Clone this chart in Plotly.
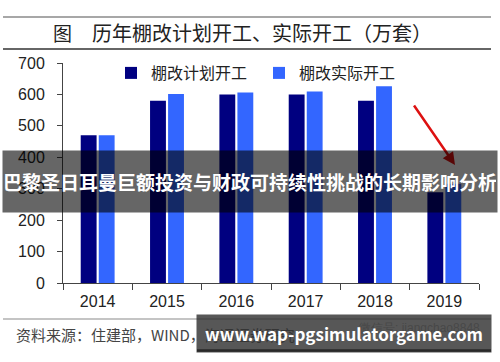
import plotly.graph_objects as go

years = ["2014", "2015", "2016", "2017", "2018", "2019"]
plan_starts = [470, 580, 600, 600, 580, 289]
actual_starts = [470, 601, 606, 609, 626, 316]
series_names = ["棚改计划开工", "棚改实际开工"]
y_ticks = [0, 100, 200, 300, 400, 500, 600, 700]

title_text = "历年棚改计划开工、实际开工（万套）"
source_text = "资料来源：住建部，WIND，海通证券研究"
wechat_text = "微信号: jiangchao8848"
banner_text = "巴黎圣日耳曼巨额投资与财政可持续性挑战的长期影响分析"
watermark_text = "www.wap-pgsimulatorgame.com"

# plot area in pixels
PL, PR, PT, PB = 63, 479, 63, 283
W, H = 500, 362


def px(x):
    return (x - PL) / (PR - PL)


def py(y):
    return (PB - y) / (PB - PT)


CJK = "Noto Sans CJK SC"
LAT = "Liberation Sans, Arial, sans-serif"

fig = go.Figure()
fig.add_trace(go.Bar(x=years, y=plan_starts, name=series_names[0],
                     marker=dict(color="#000080", line=dict(width=0))))
fig.add_trace(go.Bar(x=years, y=actual_starts, name=series_names[1],
                     marker=dict(color="#3366ff", line=dict(width=0))))

shapes = [
    dict(type="line", xref="paper", yref="paper", x0=px(3), x1=px(491), y0=py(17), y1=py(17),
         line=dict(color="#8a8a8a", width=1.5)),
    dict(type="line", xref="paper", yref="paper", x0=px(3), x1=px(491), y0=py(49), y1=py(49),
         line=dict(color="#333333", width=1.5)),
    dict(type="line", xref="paper", yref="paper", x0=px(3), x1=px(491), y0=py(319), y1=py(319),
         line=dict(color="#8a8a8a", width=1.2)),
    dict(type="line", xref="paper", yref="paper", x0=px(197), x1=px(491), y0=py(350.5), y1=py(350.5),
         line=dict(color="#000000", width=2.5)),
]


def ann(text, x, y, **kw):
    d = dict(text=text, x=px(x), y=py(y), xref="paper", yref="paper", showarrow=False,
             xanchor="center", yanchor="middle")
    d.update(kw)
    return d


annotations = [
    ann("图", 62, 33, font=dict(family=CJK, size=19, color="#222")),
    ann(title_text, 262, 33, font=dict(family=CJK, size=20, color="#222")),
    ann(source_text, 14, 334, xanchor="left", font=dict(family=CJK, size=15, color="#444")),
    ann(wechat_text, 482, 328, xanchor="right", font=dict(family=LAT, size=12, color="#aaa")),
    # red arrow
    dict(text="", x=px(455), y=py(165), xref="paper", yref="paper", showarrow=True,
         ax=-42, ay=-61, arrowcolor="#dd1111", arrowwidth=2.5, arrowhead=2, arrowsize=1),
    # overlay banner
    ann("<b>" + banner_text + "</b>", 250, 181.5, width=492, height=59, borderpad=1,
        bgcolor="rgba(0,0,0,0.6)", font=dict(family=CJK, size=19, color="white")),
    # bottom watermark
    ann("<b>" + watermark_text + "</b>", 344, 333.5, width=292, height=35, borderpad=1,
        bgcolor="rgba(50,50,50,0.82)", font=dict(family=CJK, size=17, color="white")),
]

fig.update_layout(
    width=W, height=H,
    margin=dict(l=PL, r=W - PR, t=PT, b=H - PB, pad=0),
    paper_bgcolor="white", plot_bgcolor="white",
    barmode="group", bargap=0.48, bargroupgap=0.12,
    showlegend=True,
    legend=dict(orientation="h", x=px(111), y=py(56), xanchor="left", yanchor="top",
                font=dict(family=CJK, size=16, color="#222"), bgcolor="rgba(0,0,0,0)",
                entrywidth=103, entrywidthmode="pixels", itemwidth=30),
    xaxis=dict(type="category", showline=True, linecolor="#444", linewidth=1,
               ticks="outside", tickson="boundaries", ticklen=6, tickcolor="#444",
               ticklabelstandoff=4,
               tickfont=dict(family=LAT, size=16, color="#222"), showgrid=False),
    yaxis=dict(range=[0, 700], tickvals=y_ticks, showline=True, linecolor="#444", linewidth=1,
               ticks="outside", ticklen=5, tickcolor="#444", showgrid=False, zeroline=False,
               ticklabelstandoff=9,
               tickfont=dict(family=LAT, size=16, color="#222")),
    shapes=shapes,
    annotations=annotations,
)

fig.write_html("out.html", config={"displayModeBar": False},
               post_script="document.body.style.margin='0';")
